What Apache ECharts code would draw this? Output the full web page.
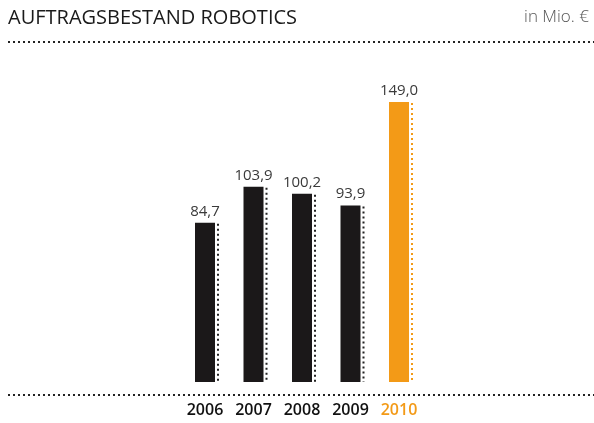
<!DOCTYPE html>
<html>
<head>
<meta charset="utf-8">
<script src="https://cdn.jsdelivr.net/npm/echarts@6/dist/echarts.min.js"></script>
<style>
  html, body { margin: 0; padding: 0; background: #ffffff; }
  #chart { width: 594px; height: 423px; }
</style>
</head>
<body>
<div id="chart"></div>
<script>
// Order backlog, Robotics division (EUR million)
const years = ['2006', '2007', '2008', '2009', '2010'];
const backlog = [84.7, 103.9, 100.2, 93.9, 149.0];
const highlightYear = '2010';

const DARK = '#1b1819';
const ORANGE = '#f39a17';
const FONT = '"Open Sans", "DejaVu Sans", sans-serif';

const chart = echarts.init(document.getElementById('chart'));

const fmt = v => v.toFixed(1).replace('.', ',');

chart.setOption({
  animation: false,
  backgroundColor: '#ffffff',
  grid: { left: 180.75, width: 242.5, top: 81.4, height: 300.6 },
  xAxis: {
    type: 'category',
    data: years,
    axisLine: { show: false },
    axisTick: { show: false },
    axisLabel: {
      margin: 20,
      fontFamily: FONT,
      fontSize: 16,
      fontWeight: 600,
      color: (v) => v === highlightYear ? ORANGE : '#111111'
    }
  },
  yAxis: {
    type: 'value',
    min: 0,
    max: 160,
    show: false,
    splitLine: { show: false }
  },
  graphic: [
    {
      type: 'text', left: 8, top: 8,
      style: { text: 'AUFTRAGSBESTAND ROBOTICS', font: '20px ' + FONT, fill: '#1a1a1a' }
    },
    {
      type: 'text', right: 5, top: 9,
      style: { text: 'in Mio. €', font: '300 17px ' + FONT, fill: '#555555' }
    },
    {
      type: 'line', shape: { x1: 8, y1: 42, x2: 594, y2: 42 },
      style: { stroke: '#222222', lineWidth: 2, lineDash: [2, 3] }
    },
    {
      type: 'line', shape: { x1: 8, y1: 395, x2: 594, y2: 395 },
      style: { stroke: '#222222', lineWidth: 2, lineDash: [2, 3] }
    }
  ],
  series: [
    {
      type: 'bar',
      data: backlog.map((v, i) => ({
        value: v,
        itemStyle: { color: years[i] === highlightYear ? ORANGE : DARK }
      })),
      barWidth: 20,
      label: {
        show: true,
        position: 'top',
        distance: 4,
        fontFamily: FONT,
        fontSize: 15,
        fontWeight: 400,
        color: '#3a3a3a',
        formatter: p => fmt(p.value)
      }
    },
    {
      // dotted accent line to the right of each bar
      type: 'custom',
      data: backlog.map((v, i) => [i, v]),
      renderItem: (params, api) => {
        const top = api.coord([api.value(0), api.value(1)]);
        const base = api.coord([api.value(0), 0]);
        const x = top[0] + 13;
        const color = years[api.value(0)] === highlightYear ? ORANGE : '#222222';
        return {
          type: 'line',
          shape: { x1: x, y1: top[1] + 1, x2: x, y2: base[1] },
          style: { stroke: color, lineWidth: 2, lineDash: [2, 3] }
        };
      },
      silent: true
    }
  ]
});
</script>
</body>
</html>
